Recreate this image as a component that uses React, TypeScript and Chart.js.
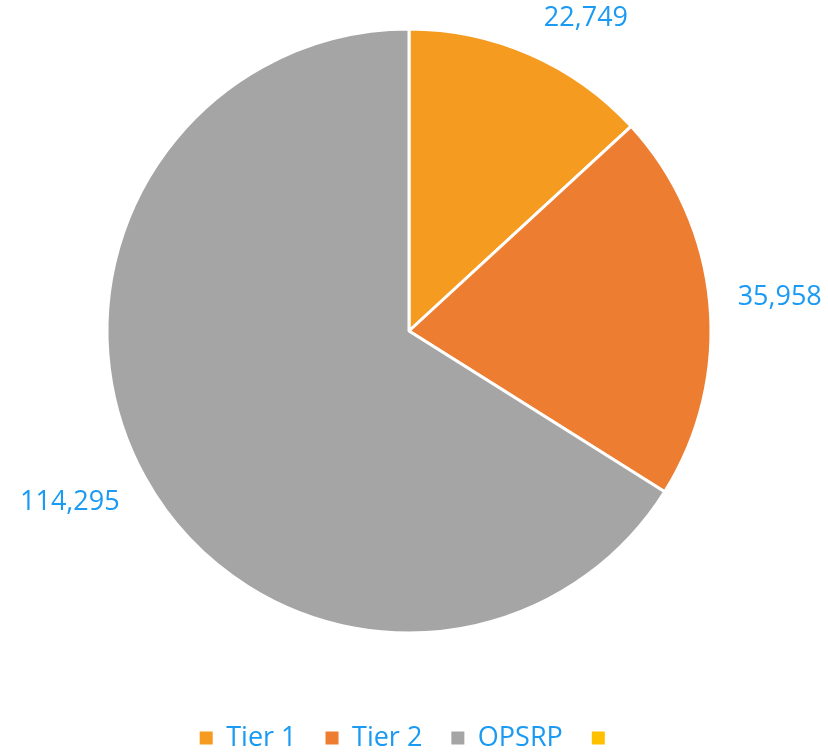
import React, { useEffect, useRef } from 'react';
import { Chart, registerables } from 'chart.js';

Chart.register(...registerables);

const categories = ['Tier 1', 'Tier 2', 'OPSRP', ''];
const values = [22749, 35958, 114295, 0];
const sliceColors = ['#F59B20', '#ED7D31', '#A5A5A5', '#FFC000'];
const LABEL_COLOR = '#1A9AF2';
const FONT = "'Open Sans', sans-serif";

const outsideLabels = {
  id: 'outsideLabels',
  afterDatasetsDraw(chart: any) {
    const ctx = chart.ctx;
    const meta = chart.getDatasetMeta(0);
    const data = chart.data.datasets[0].data;
    ctx.save();
    ctx.font = `27px ${FONT}`;
    ctx.fillStyle = LABEL_COLOR;
    ctx.textAlign = 'center';
    ctx.textBaseline = 'middle';
    const clamp = (t: number) => Math.max(-1, Math.min(1, t));
    meta.data.forEach((arc: any, i: number) => {
      const v = data[i];
      if (!v) return;
      const { x, y, startAngle, endAngle, outerRadius } = arc.getProps(
        ['x', 'y', 'startAngle', 'endAngle', 'outerRadius'],
        true
      );
      const mid = (startAngle + endAngle) / 2;
      const c = Math.cos(mid);
      const s = Math.sin(mid);
      const text = v.toLocaleString('en-US');
      const w = ctx.measureText(text).width;
      const h = 28;
      const ax = x + (outerRadius + 24) * c;
      const ay = y + (outerRadius + 24) * s;
      ctx.fillText(text, ax + clamp(3 * c) * (w / 2 + 4), ay + clamp(3 * s) * (h / 2));
    });
    ctx.restore();
  },
};

export default function App() {
  const canvasRef = useRef<HTMLCanvasElement | null>(null);

  useEffect(() => {
    if (!canvasRef.current) return;
    const baseGen = (Chart as any).overrides.doughnut.plugins.legend.labels.generateLabels;
    const chart = new Chart(canvasRef.current, {
      type: 'pie',
      data: {
        labels: categories,
        datasets: [
          {
            data: values,
            backgroundColor: sliceColors,
            borderColor: '#ffffff',
            borderWidth: 3,
            radius: 302,
            hoverOffset: 0,
          } as any,
        ],
      },
      options: {
        animation: false,
        responsive: true,
        maintainAspectRatio: false,
        layout: { padding: { top: 0, left: 0, right: 10, bottom: -9.5 } },
        plugins: {
          tooltip: { enabled: false },
          legend: {
            position: 'bottom',
            title: {
              display: true,
              text: ' ',
              font: { size: 1, lineHeight: 1 },
              padding: { top: 32.5, bottom: 0 },
            },
            labels: {
              font: { family: FONT, size: 27 },
              color: LABEL_COLOR,
              boxWidth: 13,
              boxHeight: 13,
              padding: 29,
              generateLabels: (ch: any) =>
                baseGen(ch).map((l: any) => ({
                  ...l,
                  lineWidth: 0,
                  strokeStyle: 'rgba(0,0,0,0)',
                  fontColor: LABEL_COLOR,
                })),
            },
          },
        },
      } as any,
      plugins: [outsideLabels],
    });
    return () => chart.destroy();
  }, []);

  return (
    <div style={{ position: 'fixed', left: 0, top: 0, width: 828, height: 752, background: '#fff' }}>
      <canvas ref={canvasRef} />
    </div>
  );
}
